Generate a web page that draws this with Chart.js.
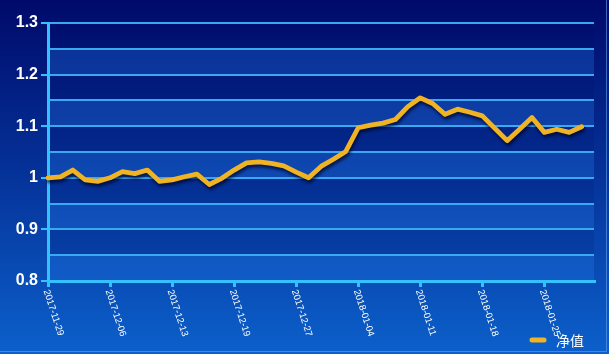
<!DOCTYPE html>
<html lang="zh">
<head>
    <meta charset="UTF-8">
    <title>净值</title>
    <script src="https://cdn.jsdelivr.net/npm/chart.js"></script>
    <style>
        body { margin: 0; padding: 0; background: #0a3a9c; }
        #wrap { width: 609px; height: 354px; }
    </style>
</head>
<body>
    <div id="wrap"><canvas id="nav-chart" width="609" height="354"></canvas></div>

    <script>
        // trading dates (last one is an empty slot at the right edge)
        const dates = [
            "2017-11-29", "2017-11-30", "2017-12-01", "2017-12-04", "2017-12-05",
            "2017-12-06", "2017-12-07", "2017-12-08", "2017-12-11", "2017-12-12",
            "2017-12-13", "2017-12-14", "2017-12-15", "2017-12-16", "2017-12-18",
            "2017-12-19", "2017-12-20", "2017-12-21", "2017-12-22", "2017-12-26",
            "2017-12-27", "2017-12-28", "2017-12-29", "2018-01-02", "2018-01-03",
            "2018-01-04", "2018-01-05", "2018-01-08", "2018-01-09", "2018-01-10",
            "2018-01-11", "2018-01-12", "2018-01-15", "2018-01-16", "2018-01-17",
            "2018-01-18", "2018-01-19", "2018-01-22", "2018-01-23", "2018-01-24",
            "2018-01-25", "2018-01-26", "2018-01-29", "2018-01-30", "2018-01-31"
        ];
        const navValues = [
            1.000, 1.002, 1.015, 0.996, 0.993, 1.000, 1.012, 1.008, 1.015, 0.993,
            0.996, 1.002, 1.007, 0.987, 0.999, 1.015, 1.029, 1.031, 1.028, 1.023,
            1.011, 1.000, 1.022, 1.036, 1.051, 1.097, 1.102, 1.106, 1.113, 1.138,
            1.155, 1.144, 1.123, 1.133, 1.127, 1.120, 1.096, 1.072, 1.094, 1.117,
            1.088, 1.094, 1.088, 1.099
        ];
        const seriesName = "净值";
        const yMin = 0.8, yMax = 1.3, yStep = 0.05;
        const labelEvery = 5;

        const FONT = "'Liberation Sans', Arial, sans-serif";
        const LINE_COLOR = "#f0b323";
        const GRID_COLOR = "#3aa9f2";
        const AXIS_COLOR = "#33c2ff";

        const isMajor = v => Math.abs(v * 10 - Math.round(v * 10)) < 1e-6;

        const decorPlugin = {
            id: "decor",
            beforeDraw(chart) {
                const ctx = chart.ctx;
                const { width, height, chartArea: a } = chart;
                // canvas background
                const g = ctx.createLinearGradient(0, 0, 0, height);
                g.addColorStop(0, "#000a6a");
                g.addColorStop(0.5, "#05339a");
                g.addColorStop(1, "#0c60cb");
                ctx.save();
                ctx.fillStyle = g;
                ctx.fillRect(0, 0, width, height);

                // thin frame at the bottom and right edges
                ctx.strokeStyle = "rgba(110, 170, 245, 0.55)";
                ctx.lineWidth = 1;
                ctx.beginPath();
                ctx.moveTo(0, 351.5);
                ctx.lineTo(606.5, 351.5);
                ctx.lineTo(606.5, 0);
                ctx.stroke();

                // alternating bands
                const y = chart.scales.y;
                for (let v = yMin; v < yMax - 1e-9; v += 0.1) {
                    const top = y.getPixelForValue(v + 0.05), bot = y.getPixelForValue(v);
                    ctx.fillStyle = "rgba(40, 130, 240, 0.28)";
                    ctx.fillRect(a.left, top, a.right - a.left, bot - top);
                    const top2 = y.getPixelForValue(v + 0.1);
                    ctx.fillStyle = "rgba(0, 10, 90, 0.12)";
                    ctx.fillRect(a.left, top2, a.right - a.left, top - top2);
                }
                ctx.restore();
            },
            beforeDatasetDraw(chart) {
                const ctx = chart.ctx;
                ctx.save();
                ctx.shadowColor = "rgba(0, 5, 40, 0.7)";
                ctx.shadowBlur = 3;
                ctx.shadowOffsetX = 1;
                ctx.shadowOffsetY = 3;
            },
            afterDatasetDraw(chart) {
                chart.ctx.restore();
            },
            afterDraw(chart) {
                const ctx = chart.ctx;
                const x = chart.scales.x;
                const a = chart.chartArea;
                ctx.save();
                // rotated date labels
                ctx.fillStyle = "#ffffff";
                ctx.font = "9.5px " + FONT;
                ctx.textAlign = "left";
                ctx.textBaseline = "middle";
                dates.forEach((d, i) => {
                    if (i % labelEvery !== 0 || i >= navValues.length) return;
                    const px = x.getPixelForValue(i);
                    ctx.save();
                    ctx.translate(px - 2, a.bottom + 9);
                    ctx.rotate(72 * Math.PI / 180);
                    ctx.fillText(d, 0, 0);
                    ctx.restore();
                });

                // legend
                ctx.strokeStyle = LINE_COLOR;
                ctx.lineWidth = 5;
                ctx.lineCap = "round";
                ctx.beginPath();
                ctx.moveTo(532, 340);
                ctx.lineTo(544, 340);
                ctx.stroke();
                ctx.font = "14px 'Noto Sans CJK SC', sans-serif";
                ctx.fillStyle = "#ffffff";
                ctx.textBaseline = "middle";
                ctx.fillText(seriesName, 556, 341);
                ctx.restore();
            }
        };

        new Chart(document.getElementById("nav-chart").getContext("2d"), {
            type: "line",
            data: {
                labels: dates,
                datasets: [{
                    label: seriesName,
                    data: navValues,
                    borderColor: LINE_COLOR,
                    borderWidth: 4.8,
                    pointRadius: 0,
                    tension: 0,
                    fill: false,
                    borderJoinStyle: "round",
                    borderCapStyle: "round"
                }]
            },
            options: {
                responsive: false,
                animation: false,
                layout: { padding: { top: 23, right: 15, left: 0, bottom: 0 } },
                plugins: {
                    legend: { display: false },
                    tooltip: { enabled: false }
                },
                scales: {
                    x: {
                        type: "category",
                        offset: false,
                        afterFit(scale) { scale.height = 73; },
                        border: { display: true, color: AXIS_COLOR, width: 3 },
                        grid: {
                            drawOnChartArea: false,
                            drawTicks: true,
                            tickLength: 6,
                            lineWidth: 3,
                            tickColor: c => (c.index % labelEvery === 0 && c.index < navValues.length) ? AXIS_COLOR : "transparent"
                        },
                        ticks: { display: false, autoSkip: false, maxRotation: 0 }
                    },
                    y: {
                        min: yMin,
                        max: yMax,
                        afterFit(scale) { scale.width = 48; },
                        border: { display: true, color: AXIS_COLOR, width: 3 },
                        grid: {
                            color: GRID_COLOR,
                            lineWidth: 2,
                            tickLength: 7,
                            tickColor: c => (c.tick && isMajor(c.tick.value)) ? AXIS_COLOR : "transparent"
                        },
                        ticks: {
                            stepSize: yStep,
                            color: "#ffffff",
                            padding: 3,
                            font: { family: FONT, size: 16, weight: "bold" },
                            callback: v => isMajor(v) ? String(Number(v.toFixed(1))) : ""
                        }
                    }
                }
            },
            plugins: [decorPlugin]
        });
    </script>
</body>
</html>
